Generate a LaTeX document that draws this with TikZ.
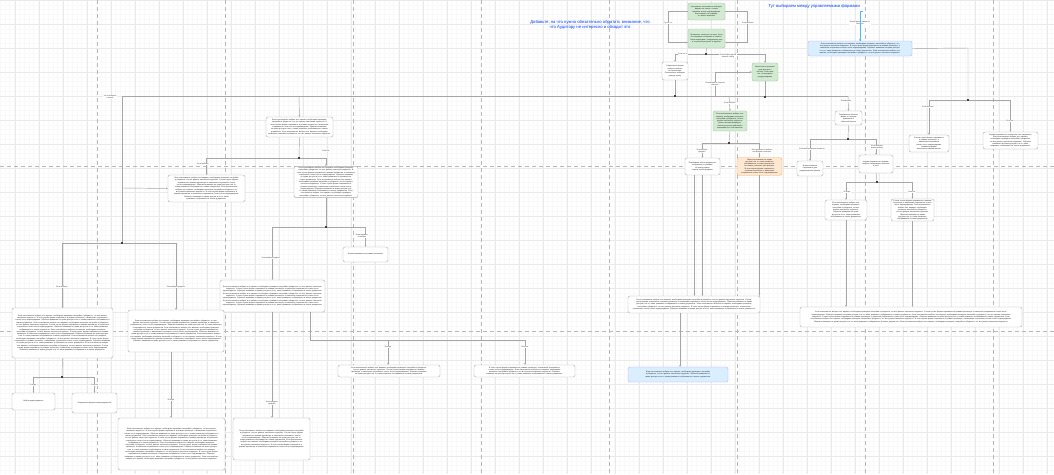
\documentclass[tikz,border=0pt]{standalone}
\usepackage{fontspec}
\setmainfont{Liberation Sans}
\usetikzlibrary{arrows.meta}
\def\ta{Если пользователь выбрал этот вариант, необходимо проверить настройки и убедиться, что все данные заполнены корректно. }
\def\tb{В этом случае форма открывается в режиме просмотра, а изменения сохраняются только после подтверждения. }
\def\tc{Обратите внимание на права доступа и на то, какие реквизиты отображаются в списке документов. }
\newcommand\bx[7]{%
  \pgfmathsetmacro\bxw{#4-#2}\pgfmathsetmacro\bxh{#5-#3}%
  \pgfmathsetmacro\bxtw{#4-#2-4}%
  \node[#6, minimum width=\bxw pt, minimum height=\bxh pt, text width=\bxtw pt] (#1) at ({(#2+#4)/2},{(#3+#5)/2}) {#7};}
\tikzset{
  box/.style={draw=gray!65, line width=0.4pt, rounded corners=2pt, fill=white, align=center,
    font=\fontsize{1.8}{2.3}\selectfont, text=black!90, inner xsep=2pt, inner ysep=1pt},
  gbox/.style={box, fill=green!55!black!18, draw=green!35!black!35},
  ybox/.style={box, fill=orange!18, draw=orange!70},
  bbox/.style={box, fill=blue!45!cyan!15, draw=blue!30},
  conn/.style={draw=gray!70, line width=0.45pt},
  arr/.style={conn, -{Stealth[length=2pt,width=1.8pt]}},
  lbl/.style={fill=white, inner sep=0.5pt, font=\fontsize{1.7}{2.2}\selectfont, align=center, text=black!85},
  dot/.style={fill=black!75, inner sep=0pt, minimum size=2pt},
  ttl/.style={text=blue!75!cyan, font=\fontsize{4.2}{4.8}\selectfont, align=center}
}
\begin{document}
\begin{tikzpicture}[x=1pt,y=-1pt]
\useasboundingbox (0,0) rectangle (1054,474);
\fill[white] (0,0) rectangle (1054,474);
% minor grid
\foreach \i in {0,4.8,...,1054} \draw[gray!5, line width=0.25pt] (\i,0) -- (\i,474);
\foreach \i in {0,4.8,...,474} \draw[gray!5, line width=0.25pt] (0,\i) -- (1054,\i);
% major grid
\foreach \i in {15,39,...,1054} \draw[gray!17, line width=0.4pt] (\i,0) -- (\i,474);
\foreach \i in {0,24,...,474} \draw[gray!17, line width=0.4pt] (0,\i) -- (1054,\i);
% dashed lanes
\foreach \i in {97,225,353,481,609,737,865,993} \draw[gray!55, dash pattern=on 4pt off 3pt, line width=0.5pt] (\i,0) -- (\i,474);
\foreach \i in {166,331} \draw[gray!55, dash pattern=on 4pt off 3pt, line width=0.5pt] (0,\i) -- (1054,\i);

% titles
\node[ttl] (t1) at (590,25) {Добавьте, на что нужно обязательно обратить внимание, что\\ что Аудитору не интересно и обходит это};
\node[ttl, anchor=west] (t2) at (765,6) {Тут выбираем между управляемыми формами};

% top nodes
\bx{n1}{688}{3}{725}{20}{gbox}{Как правило пользователь выбирает вариант из списка, а затем нажимает кнопку подтверждения.\\ Если вариант не подходит, его можно изменить}
\bx{n2}{688}{29}{725}{48}{gbox}{Проверяем, заполнено ли поле. Если нет, выводим сообщение об ошибке.\\ Затем переходим к следующему шагу и сохраняем результат в журнале}
\bx{n3}{662}{62}{688}{80}{box}{Открывается форма выбора элемента из справочника.\\ Пользователь выбирает нужную строку}
\bx{n4}{752}{63}{778}{81}{gbox}{Выполняется проверка прав доступа к объекту. Если прав нет, то выводится предупреждение}
\bx{n6}{713}{111}{747}{131}{gbox}{\ta Далее система формирует список доступных действий и показывает его пользователю.}
\bx{n7}{685}{158}{720}{175}{box}{Показываем список документов, отобранных по условию.\\ Из списка можно открыть любой документ}
\bx{n8}{737}{158}{782}{175}{ybox}{\tc Это важно учитывать при проверке.\\ \tb}
\bx{nb}{808}{41}{912}{56}{bbox}{\ta\tb\tc\ta}
\node[lbl] (lt) at (860,23) {Выбор формы зависит от\\ настроек};
\bx{nr1}{909}{135}{949}{152}{box}{\tb\\ Реквизиты формы заполняются автоматически.}
\bx{nr2}{983}{132}{1038}{149}{box}{Форма открывается в отдельном окне (модально)\\ \ta\tc}
\bx{nm1}{835}{111}{862}{125}{box}{Открывается обычная форма со списком реквизитов и табличной частью}
\bx{nm2}{797}{161}{823}{176}{box}{Форма элемента открывается для редактирования данных}
\bx{nm3}{859}{155}{893}{173}{box}{Форма открывается в режиме выбора и возвращает значение\\ в поле}
\bx{nm4}{825}{200}{867}{220}{box}{\ta\\ \tc}
\bx{nm5}{891}{200}{934}{220}{box}{\tb\ta\\ \tc}
\bx{nb2}{628}{367}{728}{382}{bbox}{\ta\tc}
\bx{nc1}{628}{296}{760}{313}{box}{\ta\tb\tc\ta\tb\tc}
\bx{nc2}{800}{307}{1022}{327}{box}{\ta\tb\tc\ta\tb\tc\ta\tb\tc\ta}

% left nodes
\bx{n5}{266}{117}{333}{137}{box}{\ta\tb\tc\ta}
\bx{nl1}{168}{175}{245}{202}{box}{\ta\tb\tc\ta\tb\\ \tc}
\bx{nl2}{294}{167}{358}{197}{box}{\ta\tb\tc\ta\tb\tc\ta}
\bx{nl3}{220}{280}{325}{312}{box}{\ta\tb\tc\ta\tb\tc\ta\tb\tc}
\bx{nl4}{343}{247}{388}{262}{box}{Форма открывается в режиме просмотра}
\bx{nq1}{12}{308}{113}{358}{box}{\ta\tb\tc\ta\tb\tc\ta\tb\tc\ta\tb\tc\ta\tb\tc}
\bx{nq2}{128}{310}{224}{352}{box}{\ta\tb\tc\ta\tb\tc\ta\tb\tc}
\bx{ns1}{12}{393}{55}{410}{box}{Выбор вида документа}
\bx{ns2}{72}{393}{117}{413}{box}{Открывается форма списка документов}
\bx{nbb1}{118}{418}{225}{470}{box}{\ta\tb\tc\ta\tb\tc\ta\tb\tc\ta\tb\tc\ta}
\bx{nbb2}{233}{418}{310}{460}{box}{\ta\tb\tc\ta\tb}
\bx{nd1}{338}{365}{440}{377}{box}{\ta\tb\tc}
\bx{nd2}{474}{365}{575}{377}{box}{\tb\ta\tc}

% junction coordinates
\coordinate (j1) at (706,54);
\coordinate (j2) at (675,96);
\coordinate (j3) at (765,97);
\coordinate (j4) at (729,143);
\coordinate (j5) at (968,100);
\coordinate (j6) at (848,139);
\coordinate (j7) at (877,182);
\coordinate (j8) at (299,158);
\coordinate (j9) at (326,227);
\coordinate (j10) at (122,243);
\coordinate (j11) at (62,377);

% top connectors
\draw[arr] (n1.west) -- ++(-20,0) |- ([yshift=-4pt]n2.west);
\node[lbl] at (668,23) {Тут что-то};
\draw[arr] (n1.east) -- ++(22,0) |- ([yshift=-4pt]n2.east);
\node[lbl] at (748,23) {Если выбрано};
\draw[conn] (n2.south) -- (j1);
\draw[arr] (j1) -| (n3.north);
\draw[arr] (j1) -| (n4.north);
\node[lbl] at (683,54) {Если что-то};
\node[lbl] at (728,56) {Если выбран другой\\ вариант ответа};
\draw[conn] (n3.south) -- (j2);
\draw[conn] (n4.south) -- (j3);
\draw[arr] (715,96) -- (715,72) -- (n4.west |- 715,72);
\node[lbl] at (715,84) {Если форма не открыта\\ повторно};
\draw[conn] (122,96) -- (848,96);
\draw[arr] (729,96) -- (n6.north);
\node[lbl] at (730,103) {Если выбрано};
\draw[conn] (n6.south) -- (j4);
\draw[arr] (j4) -| (n7.north);
\draw[arr] (j4) -| (n8.north);
\node[lbl] at (702,151) {Если выбран\\ документ};
\node[lbl] at (762,151) {Если документ не выбран\\ или выбрано несколько};
% blue
\draw[blue!40!cyan!70, line width=0.5pt, -{Stealth[length=2pt,width=1.8pt]}] (t2.east) ++(0,5) -| (nb.north -| 860,0) -- (860,41);
\draw[conn] (nb.east) -- (968,48) -- (j5);
\draw[arr] (j5) -| (nr1.north);
\draw[arr] (j5) -| (nr2.north);
\node[lbl] at (928,107) {Если выбрано};
\node[lbl] at (1010,121) {Если так};
\draw[arr] (848,96) -- (nm1.north);
\node[lbl] at (846,101) {Если форма};
\draw[conn] (nm1.south) -- (j6);
\draw[arr] (j6) -| (nm2.north);
\draw[arr] (j6) -| (nm3.north);
\node[lbl] at (812,149) {Если выбрана форма элемента};
\node[lbl] at (877,147) {Если выбрана\\ форма выбора};
\draw[conn] (nm3.south) -- (j7);
\draw[arr] (j7) -| (nm4.north);
\draw[arr] (j7) -| (nm5.north);
\node[lbl] at (847,192) {Если да};
\node[lbl] at (912,192) {Если нет};
\draw[arr] (nm4.south) -- (nc2.north -| nm4.south);
\draw[arr] (nm5.south) -- (nc2.north -| nm5.south);
\draw[arr] (n7.south) -- (nc1.north -| n7.south);
\draw[arr] ([xshift=-8pt]n7.south) -- ([xshift=-8pt]nc1.north -| n7.south);
\draw[arr] (n8.south) -- (nc1.north -| n8.south);
\draw[arr] (nc1.south -| 680,0) -- (nb2.north -| 680,0);

% left connectors
\draw[arr] (299,96) -- (n5.north);
\node[lbl] at (110,97) {Что-то выбрано\\ в списке};
\draw[conn] (n5.south) -- (j8);
\draw[arr] (j8) -| (nl1.north);
\draw[arr] (j8) -| (nl2.north);
\node[lbl] at (203,164) {Если выбрано};
\node[lbl] at (326,151) {Если нет};
\draw[conn] (nl2.south) -- (j9);
\draw[arr] (j9) -| (nl3.north);
\draw[arr] (j9) -| (nl4.north);
\node[lbl] at (271,258) {Если выбран документ};
\node[lbl] at (362,236) {Если документ\\ не выбран};
\draw[conn] (122,96) -- (j10);
\draw[arr] (122,188) -- (nl1.west);
\draw[arr] (j10) -| (nq1.north);
\draw[arr] (j10) -| (nq2.north);
\node[lbl] at (62,287) {Если выбрано};
\node[lbl] at (176,287) {Если выбран документ};
\draw[conn] (nq1.south) -- (j11);
\draw[arr] (j11) -| (ns1.north);
\draw[arr] (j11) -| (ns2.north);
\node[lbl] at (33,385) {Если да};
\node[lbl] at (95,385) {Если нет};
\draw[arr] (nq2.south -| 171,0) -- (nbb1.north -| 171,0);
\node[lbl] at (171,400) {Если да};
\draw[arr] (nl3.south -| 272,0) -- (nbb2.north -| 272,0);
\node[lbl] at (272,403) {Если документ\\ проведён};
\draw[arr] (nl3.south -| 310,0) |- (388,340) -- (nd1.north -| 388,0);
\draw[arr] (388,340) -| (nd2.north -| 525,0);
\node[lbl] at (388,347) {Если да};
\node[lbl] at (525,347) {Если нет};

\foreach \j in {j1,j2,j3,j4,j5,j6,j7,j8,j9,j10,j11} \node[dot] at (\j) {};
\end{tikzpicture}
\end{document}
